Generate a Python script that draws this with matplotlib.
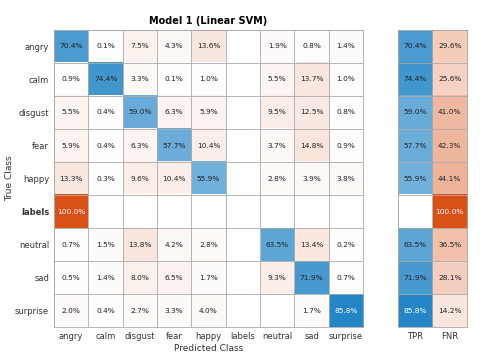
import matplotlib
matplotlib.use("Agg")
import matplotlib.pyplot as plt
import numpy as np

classes = ["angry", "calm", "disgust", "fear", "happy", "labels", "neutral", "sad", "surprise"]

# row-normalised confusion values in percent (nan = empty cell)
nan = np.nan
conf = np.array([
    [70.4, 0.1, 7.5, 4.3, 13.6, nan, 1.9, 0.8, 1.4],
    [0.9, 74.4, 3.3, 0.1, 1.0, nan, 5.5, 13.7, 1.0],
    [5.5, 0.4, 59.0, 6.3, 5.9, nan, 9.5, 12.5, 0.8],
    [5.9, 0.4, 6.3, 57.7, 10.4, nan, 3.7, 14.8, 0.9],
    [13.3, 0.3, 9.6, 10.4, 55.9, nan, 2.8, 3.9, 3.8],
    [100.0, nan, nan, nan, nan, nan, nan, nan, nan],
    [0.7, 1.5, 13.8, 4.2, 2.8, nan, 63.5, 13.4, 0.2],
    [0.5, 1.4, 8.0, 6.5, 1.7, nan, 9.3, 71.9, 0.7],
    [2.0, 0.4, 2.7, 3.3, 4.0, nan, nan, 1.7, 85.8],
])
tpr = [70.4, 74.4, 59.0, 57.7, 55.9, nan, 63.5, 71.9, 85.8]
fnr = [29.6, 25.6, 41.0, 42.3, 44.1, 100.0, 36.5, 28.1, 14.2]

blue = np.array([0.0, 0.447, 0.741])
orange = np.array([0.85, 0.325, 0.098])


def shade(v, base):
    if np.isnan(v):
        return np.ones(3)
    a = v / 100.0
    return (1 - a) * np.ones(3) + a * base


def draw_cells(ax, vals, is_good):
    n_r, n_c = vals.shape
    img = np.ones((n_r, n_c, 3))
    for i in range(n_r):
        for j in range(n_c):
            v = vals[i, j]
            img[i, j] = shade(v, blue if is_good(i, j) else orange)
            if not np.isnan(v):
                col = "white" if v > 80 else "#222222"
                ax.text(j, i, f"{v:.1f}%", ha="center", va="center",
                        fontsize=5.3, color=col)
    ax.imshow(img, aspect="auto", interpolation="nearest")
    ax.set_xticks(np.arange(n_c + 1) - 0.5, minor=True)
    ax.set_yticks(np.arange(n_r + 1) - 0.5, minor=True)
    ax.grid(which="minor", color="#aaaaaa", linewidth=0.6)
    ax.tick_params(which="both", length=0, labelsize=6, colors="#333333")
    for s in ax.spines.values():
        s.set_color("#aaaaaa")
        s.set_linewidth(0.6)


fig = plt.figure(figsize=(4.8, 3.61), dpi=100)

ax = fig.add_axes([0.1125, 0.094, 0.644, 0.823])
draw_cells(ax, conf, lambda i, j: i == j)
ax.set_xticks(np.arange(len(classes)))
ax.set_xticklabels(classes)
ax.set_yticks(np.arange(len(classes)))
ax.set_yticklabels(classes)
ax.set_xlabel("Predicted Class", fontsize=6.5, color="#333333", labelpad=2)
ax.set_ylabel("True Class", fontsize=6.5, color="#333333")
ax.yaxis.set_label_coords(-0.13, 0.5)
ax.set_title("Model 1 (Linear SVM)", fontsize=7, fontweight="bold", pad=4)
for lbl in ax.get_yticklabels():
    if lbl.get_text() == "labels":
        lbl.set_fontweight("bold")

ax2 = fig.add_axes([0.829, 0.094, 0.144, 0.823])
rates = np.column_stack([tpr, fnr])
draw_cells(ax2, rates, lambda i, j: j == 0)
ax2.set_xticks([0, 1])
ax2.set_xticklabels(["TPR", "FNR"])
ax2.set_yticks([])

fig.savefig("out.png", dpi=100)
